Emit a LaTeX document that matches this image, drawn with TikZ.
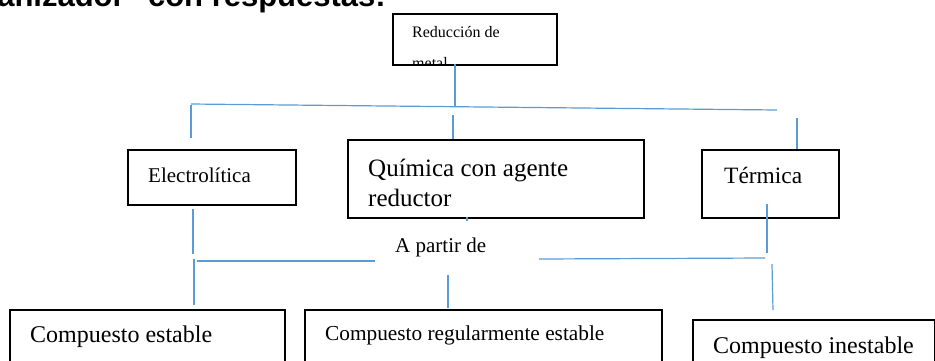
\documentclass[tikz,border=0pt]{standalone}
\usepackage{fontspec}
\setmainfont{Liberation Serif}
\newfontfamily\titlefont{Liberation Sans}
\definecolor{lineblue}{HTML}{5B9BD5}
\tikzset{
  box/.style={draw=black, line width=1.6pt, fill=white, inner sep=0pt, anchor=north west},
  tx/.style={anchor=base west, inner sep=0pt, text=black},
  conn/.style={draw=lineblue, line width=1.2pt},
}
\begin{document}
\begin{tikzpicture}[x=1pt, y=-1pt]
\useasboundingbox (0,0) rectangle (935,360);
% title (cut at top)
\node[anchor=base east, inner sep=0pt] (title) at (386,6) {\titlefont\bfseries\fontsize{31}{36}\selectfont anizador" con respuestas:};
% top box
\node[box, minimum width=164pt, minimum height=51pt] (top) at (392,13) {};
\node[tx] (t1) at (412,37) {\fontsize{16}{19}\selectfont Reducción de};
\begin{scope}
\clip (393,14) rectangle (555,63);
\node[tx] (t2) at (412,68.5) {\fontsize{16}{19}\selectfont metal};
\end{scope}
% second row boxes
\node[box, minimum width=168pt, minimum height=55pt] (elec) at (127,149) {};
\node[tx] (elect) at (148,182) {\fontsize{21}{25}\selectfont Electrolítica};
\node[box, minimum width=296pt, minimum height=78pt] (quim) at (347,139) {};
\node[tx] (quimt1) at (368,176) {\fontsize{25}{29}\selectfont Química con agente};
\node[tx] (quimt2) at (368,206) {\fontsize{25}{29}\selectfont reductor};
\node[box, minimum width=137pt, minimum height=68pt] (term) at (701,149) {};
\node[tx] (termt) at (724,183) {\fontsize{23.4}{27}\selectfont Térmica};
% middle label
\node[tx] (apartir) at (395,252) {\fontsize{21}{25}\selectfont A partir de};
% bottom boxes
\node[box, minimum width=275pt, minimum height=70pt] (b1) at (9,309) {};
\node[tx] (b1t) at (30,342) {\fontsize{24}{28}\selectfont Compuesto estable};
\node[box, minimum width=357pt, minimum height=70pt] (b2) at (304,309) {};
\node[tx] (b2t) at (325,340) {\fontsize{21.3}{25}\selectfont Compuesto regularmente estable};
\node[box, minimum width=242pt, minimum height=60pt] (b3) at (692,319) {};
\node[tx] (b3t) at (713,353) {\fontsize{24}{28}\selectfont Compuesto inestable};
% connector coordinates
\coordinate (h1a) at (191,104);
\coordinate (h1b) at (777,110);
\coordinate (v0a) at (455,64);
\coordinate (v0b) at (455,107);
\coordinate (vla) at (191,105);
\coordinate (vlb) at (191,138);
\coordinate (vma) at (453,115);
\coordinate (vrA) at (797,118);
\coordinate (vrB) at (797,149);
\coordinate (stA) at (467,217);
\coordinate (stB) at (467,221);
\coordinate (l1a) at (193,209);
\coordinate (l1b) at (193,254);
\coordinate (l2a) at (194,259);
\coordinate (l2b) at (194,305);
\coordinate (hla) at (197,261);
\coordinate (hlb) at (375,261);
\coordinate (hra) at (539,259);
\coordinate (hrb) at (765,258);
\coordinate (r1a) at (767,204);
\coordinate (r1b) at (767,253);
\coordinate (r2a) at (772,264);
\coordinate (r2b) at (773,310);
\coordinate (m1a) at (448,275);
\coordinate (m1b) at (448,308);
% connectors
\draw[conn] (v0a) -- (v0b);
\draw[conn] (h1a) -- (h1b);
\draw[conn] (vla) -- (vlb);
\draw[conn] (vma) -- (quim.north west -| vma);
\draw[conn] (vrA) -- (vrB);
\draw[conn] (stA) -- (stB);
\draw[conn] (l1a) -- (l1b);
\draw[conn] (l2a) -- (l2b);
\draw[conn] (hla) -- (hlb);
\draw[conn] (hra) -- (hrb);
\draw[conn] (r1a) -- (r1b);
\draw[conn] (r2a) -- (r2b);
\draw[conn] (m1a) -- (m1b);
\end{tikzpicture}
\end{document}
